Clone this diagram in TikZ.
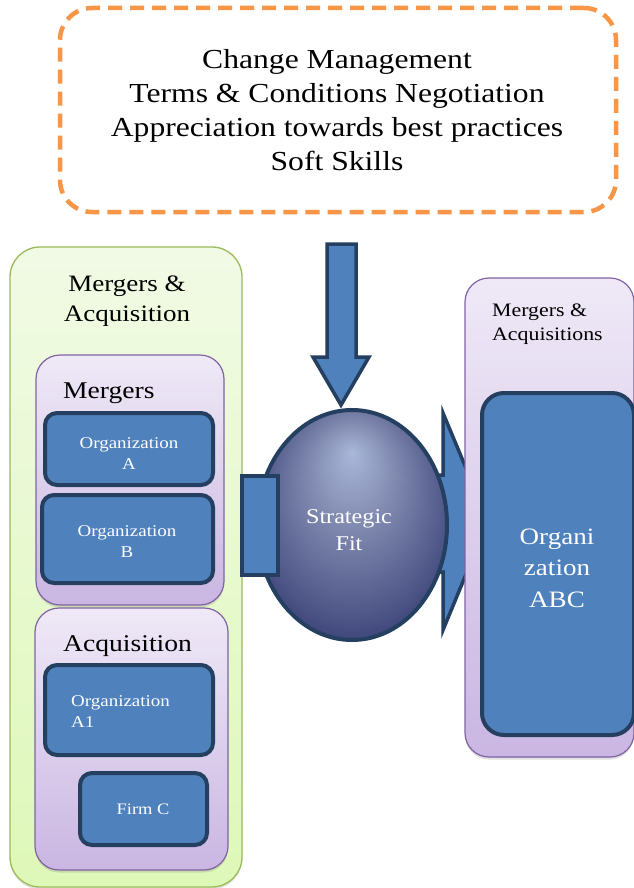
\documentclass[tikz,border=0pt]{standalone}
\usepackage{fontspec}
\setmainfont{Liberation Serif}[FakeStretch=1.15]
\usetikzlibrary{shapes.geometric,shadows}
\definecolor{orangeD}{HTML}{F79646}
\definecolor{blueF}{HTML}{4F81BD}
\definecolor{blueB}{HTML}{243F60}
\definecolor{greenB}{HTML}{9BBB59}
\definecolor{greenT}{HTML}{F1FAE5}
\definecolor{greenBt}{HTML}{DEF8B8}
\definecolor{purB}{HTML}{8064A2}
\definecolor{purT}{HTML}{EFE9F7}
\definecolor{purBt}{HTML}{CAB6E2}
\definecolor{sfA}{HTML}{A9B7D8}
\definecolor{sfB}{HTML}{7E87AD}
\definecolor{sfC}{HTML}{4A5284}
\definecolor{sfD}{HTML}{1B215E}
\pgfdeclareradialshading{sfit}{\pgfpoint{0bp}{16bp}}{color(0bp)=(sfA); color(12bp)=(sfB); color(26bp)=(sfC); color(36bp)=(sfD)}
\begin{document}
\begin{tikzpicture}[x=1pt,y=-1pt,
  greenpanel/.style={draw=greenB, line width=1.3pt, rounded corners=30pt, top color=greenT, bottom color=greenBt, inner sep=0pt, drop shadow={shadow xshift=0pt,shadow yshift=-2.5pt,opacity=0.2}},
  purplepanel/.style={draw=purB, line width=1.2pt, rounded corners=24pt, top color=purT, bottom color=purBt, inner sep=0pt, drop shadow={shadow xshift=0pt,shadow yshift=-2.5pt,opacity=0.25}},
  orgbox/.style={draw=blueB, line width=4pt, fill=blueF, rounded corners=12pt, inner sep=0pt},
  blockshape/.style={draw=blueB, line width=3.5pt, fill=blueF, line join=miter},
  wtext/.style={text=white, align=center, inner sep=0pt},
  btext/.style={text=black, align=center, inner sep=0pt}]
\fill[white] (0,0) rectangle (633,888);
\useasboundingbox (0,0) rectangle (633,888);

% left panel
\node[greenpanel, minimum width=232pt, minimum height=640pt] (ma) at (126,567) {};
\node[btext, font=\fontsize{23.5}{30}\selectfont] (matext) at (127,301) {Mergers \&\\Acquisition};
\node[purplepanel, minimum width=188pt, minimum height=250pt] (mer) at (130,480) {};
\node[btext, anchor=west, font=\fontsize{24}{28}\selectfont] (mertext) at (63,393) {Mergers};
\node[orgbox, minimum width=168pt, minimum height=72pt] (orga) at (129,449) {};
\node[wtext, font=\fontsize{16.5}{21}\selectfont] (orgatext) at (129,453.5) {Organization\\A};
\node[orgbox, minimum width=171pt, minimum height=88pt] (orgb) at (127.5,539) {};
\node[wtext, font=\fontsize{16.5}{21}\selectfont] (orgbtext) at (127,541.5) {Organization\\B};
\node[purplepanel, minimum width=193pt, minimum height=262pt] (acq) at (131.5,739) {};
\node[btext, anchor=west, font=\fontsize{24}{28}\selectfont] (acqtext) at (63,646) {Acquisition};
\node[orgbox, minimum width=168pt, minimum height=90pt] (orga1) at (129,710) {};
\node[wtext, anchor=west, align=left, font=\fontsize{16.5}{21}\selectfont] (orga1text) at (71,711.5) {Organization\\A1};
\node[orgbox, minimum width=127pt, minimum height=72pt] (firmc) at (143.5,809) {};
\node[wtext, font=\fontsize{16}{20}\selectfont] (firmctext) at (143,809) {Firm C};

% right arrow (behind)
\draw[blockshape] (400,475) -- (443,475) -- (443,413) -- (488,521) -- (443,630) -- (443,572) -- (400,572) -- cycle;

% right panel
\node[purplepanel, minimum width=169pt, minimum height=479pt] (res) at (549.5,517.5) {};
\node[btext, anchor=west, align=left, font=\fontsize{19}{23.5}\selectfont] (restext) at (492,324) {Mergers \&\\Acquisitions};
\node[orgbox, rounded corners=22pt, minimum width=152pt, minimum height=342pt] (abc) at (558,564) {};
\node[wtext, font=\fontsize{23.5}{31.5}\selectfont] (abctext) at (557,568) {Organi\\zation\\ABC};

% strategic fit
\node[ellipse, draw=blueB, line width=4pt, shading=sfit, minimum width=190pt, minimum height=230pt, inner sep=0pt] (fit) at (352,525) {};
\node[wtext, font=\fontsize{21}{27}\selectfont] (fittext) at (349,530.5) {Strategic\\Fit};

% left block on ellipse
\draw[blockshape] (242,476) rectangle (278,575);

% down arrow
\draw[blockshape] (327,244) -- (356,244) -- (356,357) -- (369,357) -- (341,405) -- (313,357) -- (327,357) -- cycle;

% top dashed box
\node[draw=orangeD, line width=4.5pt, dash pattern=on 14pt off 8pt, rounded corners=32pt, minimum width=556pt, minimum height=204pt, inner sep=0pt] (skills) at (338,110) {};
\node[btext, font=\fontsize{27.5}{34}\selectfont] (skillstext) at (337,110) {Change Management\\Terms \& Conditions Negotiation\\Appreciation towards best practices\\Soft Skills};
\end{tikzpicture}
\end{document}
